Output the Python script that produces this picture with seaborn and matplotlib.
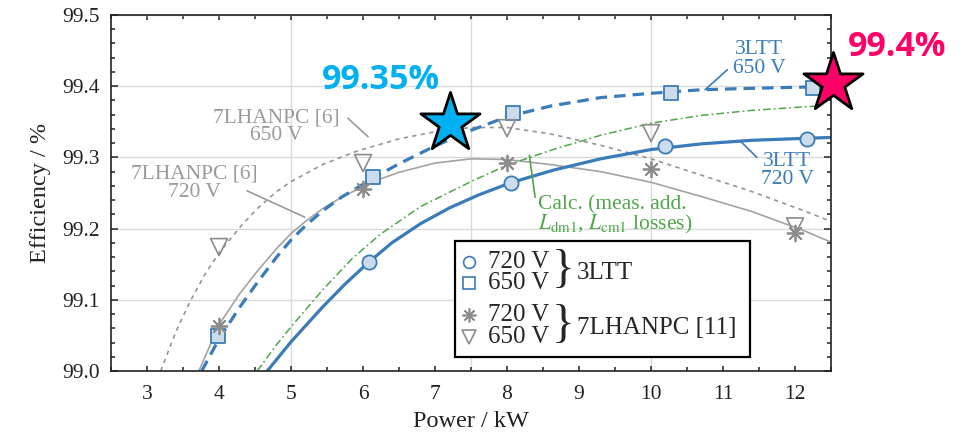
import numpy as np
import pandas as pd
import matplotlib
matplotlib.use("Agg")
import matplotlib.pyplot as plt
import seaborn as sns
from matplotlib.patches import Rectangle
from matplotlib.ticker import MultipleLocator

p_3ltt_720 = [6.08, 8.06, 10.19, 12.16]
eff_3ltt_720 = [99.153, 99.264, 99.316, 99.326]
p_3ltt_650 = [3.99, 6.14, 8.08, 10.28, 12.25]
eff_3ltt_650 = [99.049, 99.272, 99.362, 99.390, 99.397]
p_7l_720 = [4.0, 6.0, 8.0, 10.0, 12.0]
eff_7l_720 = [99.063, 99.256, 99.292, 99.284, 99.194]
p_7l_650 = [4.0, 6.0, 8.0, 10.0, 12.0]
eff_7l_650 = [99.174, 99.292, 99.341, 99.334, 99.203]

# --- fitted / calculated curves ---
curve_3ltt_720_x = [4.67, 5.0, 5.44, 5.75, 6.07, 6.4, 6.8, 7.2, 7.6, 8.04, 8.64, 9.3, 10.0, 10.7, 11.4, 12.2, 12.5]
curve_3ltt_720_y = [99.000, 99.041, 99.090, 99.122, 99.152, 99.180, 99.207, 99.229, 99.247, 99.264, 99.282,
                    99.298, 99.311, 99.319, 99.324, 99.327, 99.328]
curve_3ltt_650_x = [3.76, 4.0, 4.29, 4.53, 4.8, 5.0, 5.2, 5.44, 5.7, 5.98, 6.14, 6.5, 7.0, 7.5, 8.0, 8.6,
                    9.3, 10.0, 10.7, 11.4, 12.25]
curve_3ltt_650_y = [99.000, 99.045, 99.090, 99.124, 99.160, 99.184, 99.204, 99.225, 99.244, 99.261, 99.271,
                    99.291, 99.316, 99.338, 99.357, 99.372, 99.384, 99.390, 99.395, 99.397, 99.399]
curve_calc_x = [4.53, 4.8, 5.0, 5.44, 5.85, 6.24, 6.8, 7.5, 8.0, 8.64, 9.3, 10.0, 10.7, 11.4, 12.28]
curve_calc_y = [99.000, 99.037, 99.062, 99.114, 99.158, 99.192, 99.231, 99.266, 99.289, 99.311, 99.331,
                99.348, 99.359, 99.366, 99.372]
curve_7l_720_x = [3.72, 4.0, 4.29, 4.53, 4.8, 5.0, 5.2, 5.44, 5.7, 5.98, 6.25, 6.5, 7.0, 7.5, 8.0, 8.6,
                  9.3, 10.0, 10.7, 11.4, 12.1, 12.5]
curve_7l_720_y = [99.000, 99.065, 99.109, 99.140, 99.172, 99.193, 99.210, 99.228, 99.244, 99.258, 99.270,
                  99.279, 99.292, 99.298, 99.297, 99.290, 99.280, 99.265, 99.245, 99.224, 99.198, 99.181]
curve_7l_650_x = [3.19, 3.4, 3.6, 3.8, 4.0, 4.3, 4.53, 4.8, 5.0, 5.44, 5.92, 6.5, 7.0, 7.5, 8.0, 8.6,
                  9.3, 10.0, 10.7, 11.4, 12.1, 12.5]
curve_7l_650_y = [99.000, 99.055, 99.098, 99.135, 99.166, 99.203, 99.228, 99.252, 99.266, 99.290, 99.309,
                  99.326, 99.336, 99.342, 99.342, 99.333, 99.317, 99.298, 99.275, 99.252, 99.226, 99.210]

# highlighted peak values
peak_x = [7.21, 12.53]
peak_y = [99.348, 99.405]
peak_labels = ["99.35%", "99.4%"]

x_ticks = [3, 4, 5, 6, 7, 8, 9, 10, 11, 12]
x_tick_labels = ["3", "4", "5", "6", "7", "8", "9", "10", "11", "12"]
y_ticks = [99.0, 99.1, 99.2, 99.3, 99.4, 99.5]
y_tick_labels = ["99.0", "99.1", "99.2", "99.3", "99.4", "99.5"]

BLUE = "#3a7cb9"
BLUE_FACE = "#cddcec"
GRAY_LINE = "#a3a3a3"
GRAY_DOT = "#959595"
GRAY_MARK = "#8c8c8c"
GREEN = "#4fa64a"
GRAY_TEXT = "#9a9a9a"
SERIF = ["Liberation Serif", "DejaVu Serif"]

sns.set_style("ticks")
plt.rcParams["font.family"] = SERIF
plt.rcParams["mathtext.fontset"] = "stix"

fig = plt.figure(figsize=(9.68, 4.38), dpi=100)
ax = fig.add_axes([0.1147, 0.153, 0.7438, 0.8128])

# curves
sns.lineplot(x=curve_7l_650_x, y=curve_7l_650_y, ax=ax, color=GRAY_DOT, linewidth=1.2,
             estimator=None, errorbar=None, sort=False)
ax.lines[-1].set_dashes((2.6, 2.6))
sns.lineplot(x=curve_7l_720_x, y=curve_7l_720_y, ax=ax, color=GRAY_LINE, linewidth=1.2,
             estimator=None, errorbar=None, sort=False)
sns.lineplot(x=curve_calc_x, y=curve_calc_y, ax=ax, color=GREEN, linewidth=1.1,
             estimator=None, errorbar=None, sort=False)
ax.lines[-1].set_dashes((5, 2, 1.2, 2))
sns.lineplot(x=curve_3ltt_650_x, y=curve_3ltt_650_y, ax=ax, color=BLUE, linewidth=2.3,
             estimator=None, errorbar=None, sort=False)
ax.lines[-1].set_dashes((3.6, 2.2))
sns.lineplot(x=curve_3ltt_720_x, y=curve_3ltt_720_y, ax=ax, color=BLUE, linewidth=2.3,
             estimator=None, errorbar=None, sort=False)
for ln in ax.lines:
    ln.set_solid_joinstyle("round")
    ln.set_dash_joinstyle("round")

# measurement markers
sns.scatterplot(x=p_3ltt_720, y=eff_3ltt_720, ax=ax, marker="o", s=105, color=BLUE_FACE,
                edgecolor=BLUE, linewidth=1.3, zorder=5)
sns.scatterplot(x=p_3ltt_650, y=eff_3ltt_650, ax=ax, marker="s", s=95, color=BLUE_FACE,
                edgecolor=BLUE, linewidth=1.3, zorder=5)
sns.scatterplot(x=p_7l_720, y=eff_7l_720, ax=ax, marker=(8, 2, 0), s=130, color=GRAY_MARK,
                linewidth=1.3, zorder=5)
sns.scatterplot(x=p_7l_650, y=eff_7l_650, ax=ax, marker="v", s=150, color="white",
                edgecolor=GRAY_MARK, linewidth=1.2, zorder=5)
ax.collections[-1].set_facecolor("none")

# highlight stars
sns.scatterplot(x=peak_x[:1], y=peak_y[:1], ax=ax, marker="*", s=2000, color="#00b0f0",
                edgecolor="black", linewidth=2.0, zorder=10, clip_on=False)
sns.scatterplot(x=peak_x[1:], y=peak_y[1:], ax=ax, marker="*", s=2000, color="#ff0066",
                edgecolor="black", linewidth=2.0, zorder=10, clip_on=False)
ax.annotate(peak_labels[0], (peak_x[0], peak_y[0]), xytext=(-50, 31), textcoords="offset points",
            ha="center", va="center", fontsize=24.5, fontweight="bold", color="#00b0f0",
            family="Open Sans", annotation_clip=False)
ax.annotate(peak_labels[1], (peak_x[1], peak_y[1]), xytext=(46, 26), textcoords="offset points",
            ha="center", va="center", fontsize=24.5, fontweight="bold", color="#ff0066",
            family="Open Sans", annotation_clip=False)

# axes
ax.set_xlim(2.5, 12.5)
ax.set_ylim(99.0, 99.5)
ax.set_xticks(x_ticks, x_tick_labels)
ax.set_yticks(y_ticks, y_tick_labels)
ax.xaxis.set_minor_locator(MultipleLocator(0.5))
ax.yaxis.set_minor_locator(MultipleLocator(0.02))
ax.tick_params(which="both", direction="in", top=True, right=True, width=1.1, colors="#222222",
               labelcolor="#222222", labelsize=15.5)
ax.tick_params(axis="x", which="major", length=3.5, pad=10)
ax.tick_params(axis="y", which="major", length=5, pad=8)
ax.tick_params(which="minor", length=3)
for lab in ax.get_xticklabels() + ax.get_yticklabels():
    lab.set_fontfamily(SERIF)
ax.grid(axis="y", which="major", color="#dadada", linewidth=1.0)
for gx in [5, 7.5, 10]:
    ax.axvline(gx, color="#dadada", linewidth=1.0, zorder=0)
for sp in ax.spines.values():
    sp.set_linewidth(1.2)
    sp.set_color("#222222")
ax.set_xlabel("Power / kW", fontsize=17.5, labelpad=5, color="#222222")
ax.set_ylabel("Efficiency / %", fontsize=17.5, labelpad=8, color="#222222")

# curve annotations
line_kw = dict(arrowstyle="-", color=GRAY_TEXT, lw=1.2, shrinkA=0, shrinkB=0)
ax.text(4.79, 99.343, "7LHANPC [6]\n650 V", ha="center", va="center", fontsize=15.5,
        color=GRAY_TEXT, linespacing=0.95)
ax.annotate("", xy=(6.07, 99.329), xytext=(5.79, 99.355), arrowprops=line_kw)
ax.text(3.66, 99.264, "7LHANPC [6]\n720 V", ha="center", va="center", fontsize=15.5,
        color=GRAY_TEXT, linespacing=0.95)
ax.annotate("", xy=(5.19, 99.216), xytext=(4.39, 99.253), arrowprops=line_kw)

blue_kw = dict(arrowstyle="-", color=BLUE, lw=1.2, shrinkA=0, shrinkB=0)
ax.text(11.5, 99.438, "3LTT\n650 V", ha="center", va="center", fontsize=15.5,
        color=BLUE, linespacing=0.95)
ax.annotate("", xy=(10.75, 99.395), xytext=(11.06, 99.423), arrowprops=blue_kw)
ax.text(11.89, 99.282, "3LTT\n720 V", ha="center", va="center", fontsize=15.5,
        color=BLUE, linespacing=0.95)
ax.annotate("", xy=(11.24, 99.323), xytext=(11.47, 99.300), arrowprops=blue_kw)

green_kw = dict(arrowstyle="-", color=GREEN, lw=1.2, shrinkA=0, shrinkB=0)
ax.text(8.43, 99.218, "Calc. (meas. add.\n$L_{\\mathrm{dm1}}$, $L_{\\mathrm{cm1}}$ losses)",
        ha="left", va="center", fontsize=15.5, color=GREEN, linespacing=0.95)
ax.annotate("", xy=(8.31, 99.303), xytext=(8.39, 99.244), arrowprops=green_kw)

# custom legend with braces
T = ax.transAxes
ax.add_patch(Rectangle((0.478, 0.039), 0.4095, 0.326, transform=T, facecolor="white",
                       edgecolor="black", linewidth=1.6, zorder=8))
key_fx = 0.497
ax.plot([key_fx], [0.306], transform=T, marker="o", ms=8.5, mfc="none", mec=BLUE, mew=1.2, zorder=9)
ax.plot([key_fx], [0.247], transform=T, marker="s", ms=8.5, mfc="none", mec=BLUE, mew=1.2, zorder=9)
ax.plot([key_fx], [0.157], transform=T, marker=(8, 2, 0), ms=10, color=GRAY_MARK, mew=1.2, zorder=9)
ax.plot([key_fx], [0.0955], transform=T, marker="v", ms=10, mfc="none", mec=GRAY_MARK, mew=1.2, zorder=9)
for fy, lab in zip([0.306, 0.247, 0.157, 0.0955], ["720 V", "650 V", "720 V", "650 V"]):
    ax.text(0.524, fy, lab, transform=T, ha="left", va="center", fontsize=18, zorder=9)
ax.text(0.628, 0.281, "}", transform=T, ha="center", va="center", fontsize=34, zorder=9,
        fontweight="light")
ax.text(0.628, 0.126, "}", transform=T, ha="center", va="center", fontsize=34, zorder=9,
        fontweight="light")
ax.text(0.647, 0.275, "3LTT", transform=T, ha="left", va="center", fontsize=18, zorder=9)
ax.text(0.647, 0.121, "7LHANPC [11]", transform=T, ha="left", va="center", fontsize=18, zorder=9)

fig.savefig("out.png", dpi=100, facecolor="white")
